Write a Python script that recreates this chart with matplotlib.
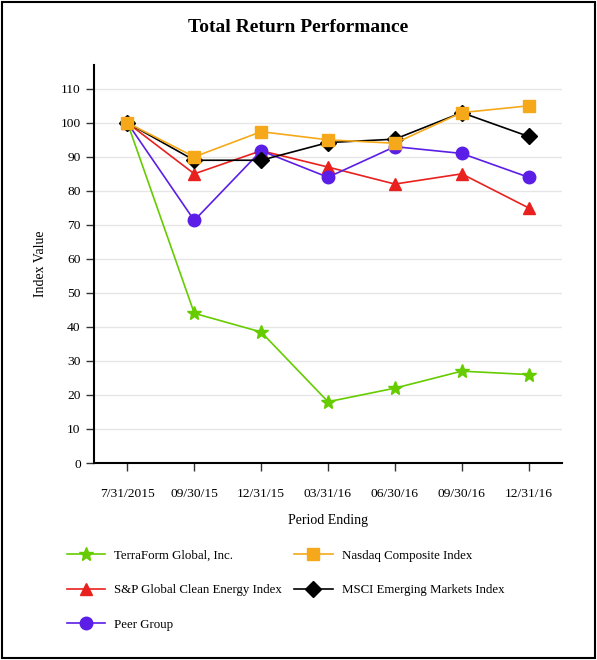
import matplotlib.pyplot as plt
from matplotlib.patches import Rectangle

plt.rcParams['font.family'] = ['Liberation Serif', 'DejaVu Serif']

periods = ['7/31/2015', '09/30/15', '12/31/15', '03/31/16', '06/30/16', '09/30/16', '12/31/16']
terraform = [100, 44, 38.5, 18, 22, 27, 26]
nasdaq = [100, 90, 97.4, 95, 94, 103, 105]
sp_clean = [100, 85, 91.8, 87, 82, 85, 75]
msci = [100, 89, 89, 94.2, 95.2, 103, 96]
peer = [100, 71.3, 91.8, 84, 93, 91, 84]

fig = plt.figure(figsize=(5.97, 6.60), dpi=100)
ax = fig.add_axes([94 / 597, 1 - 463 / 660, (562 - 94) / 597, (463 - 65) / 660])

x = range(len(periods))
ax.plot(x, terraform, color='#66cc00', lw=1.2, marker='*', ms=10, label='TerraForm Global, Inc.')
ax.plot(x, sp_clean, color='#e8211f', lw=1.2, marker='^', ms=9, label='S&P Global Clean Energy Index')
ax.plot(x, peer, color='#5b1ee6', lw=1.2, marker='o', ms=9, label='Peer Group')
ax.plot(x, msci, color='black', lw=1.2, marker='D', ms=8, label='MSCI Emerging Markets Index')
ax.plot(x, nasdaq, color='#f5a91a', lw=1.2, marker='s', ms=9, label='Nasdaq Composite Index')

ax.set_xlim(-0.5, 6.5)
ax.set_ylim(0, 117)
ax.set_yticks(range(0, 111, 10))
ax.set_xticks(list(x))
ax.set_xticklabels(periods)
ax.grid(axis='y', color='#e6e6e6', lw=1)
ax.set_axisbelow(True)
for s in ['top', 'right']:
    ax.spines[s].set_visible(False)
ax.spines['left'].set_linewidth(1.5)
ax.spines['bottom'].set_linewidth(1.5)
ax.tick_params(axis='both', labelsize=9.7, length=6, width=1, color='#333333')
ax.tick_params(axis='x', pad=12)
ax.set_ylabel('Index Value', fontsize=10, labelpad=10)
ax.set_xlabel('Period Ending', fontsize=10, labelpad=10)
fig.text(0.5, 1 - 28 / 660, 'Total Return Performance', ha='center', va='center',
         fontsize=14, fontweight='bold')

# legend fills column by column: left column first, then right column
h, l = ax.get_legend_handles_labels()
order = [0, 1, 2, 4, 3]
fig.legend([h[i] for i in order], [l[i] for i in order], ncol=2,
           loc='upper left', bbox_to_anchor=(55 / 597, 1 - 538 / 660),
           frameon=False, fontsize=9.3, handlelength=3.0, handletextpad=0.7,
           columnspacing=0.9, labelspacing=1.75)

fig.patches.append(Rectangle((0.003, 0.003), 0.994, 0.994, transform=fig.transFigure,
                             fill=False, edgecolor='black', lw=1.5))

fig.savefig('out.png', dpi=100)
